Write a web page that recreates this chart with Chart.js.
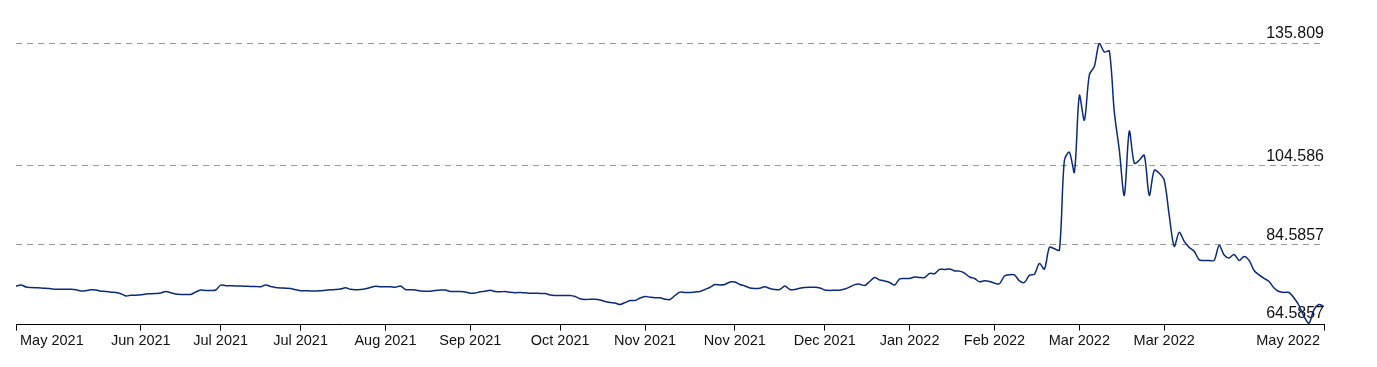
<!DOCTYPE html>
<html>
<head>
<meta charset="utf-8">
<script src="https://cdn.jsdelivr.net/npm/chart.js@4"></script>
<style>
    html, body { margin: 0; padding: 0; background: #fff; }
    #wrap { width: 1377px; height: 367px; }
</style>
</head>
<body>
<div id="wrap"><canvas id="priceChart"></canvas></div>
<script>
// one value per trading day
const values = [
    73.97, 74.28, 73.77, 73.64, 73.57, 73.52, 73.44, 73.31, 73.18, 73.18,
    73.21, 73.18, 73.06, 72.75, 72.80, 73.08, 73.00, 72.70, 72.62, 72.45,
    72.37, 72.06, 71.48, 71.66, 71.68, 71.78, 71.99, 72.04, 72.11, 72.24,
    72.62, 72.32, 71.99, 71.86, 71.86, 71.86, 72.50, 73.00, 72.88, 72.88,
    73.00, 74.23, 74.10, 74.08, 74.02, 74.02, 73.97, 73.90, 73.90, 73.82,
    74.28, 73.90, 73.64, 73.52, 73.46, 73.39, 73.06, 72.83, 72.80, 72.75,
    72.75, 72.80, 72.95, 73.06, 73.13, 73.26, 73.57, 73.18, 73.06, 73.13,
    73.31, 73.64, 73.95, 73.82, 73.82, 73.82, 73.69, 74.02, 73.13, 73.06,
    73.00, 72.75, 72.70, 72.70, 72.88, 73.00, 73.00, 72.62, 72.62, 72.62,
    72.50, 72.19, 72.24, 72.55, 72.67, 72.93, 72.62, 72.55, 72.62, 72.42,
    72.32, 72.37, 72.29, 72.19, 72.17, 72.11, 72.11, 71.73, 71.60, 71.60,
    71.60, 71.60, 71.35, 70.79, 70.59, 70.64, 70.64, 70.46, 70.07, 69.82,
    69.69, 69.31, 69.82, 70.33, 70.33, 70.97, 71.35, 71.17, 71.02, 71.02,
    70.66, 70.59, 71.60, 72.45, 72.37, 72.37, 72.50, 72.62, 73.13, 73.64,
    74.41, 74.28, 74.41, 75.04, 75.04, 74.41, 74.02, 73.52, 73.39, 73.46,
    73.82, 73.39, 73.13, 73.13, 74.02, 73.13, 73.13, 73.44, 73.64, 73.71,
    73.71, 73.52, 73.00, 72.88, 72.95, 72.95, 73.26, 73.77, 74.36, 74.48,
    74.15, 75.17, 76.19, 75.55, 75.30, 74.92, 74.28, 75.81, 75.93, 75.93,
    76.31, 76.19, 76.19, 77.21, 77.13, 78.23, 78.23, 78.36, 77.85, 77.80,
    77.29, 76.31, 75.93, 75.09, 75.35, 75.17, 74.74, 74.59, 76.57, 76.88,
    76.83, 75.30, 74.92, 76.78, 77.03, 79.76, 78.31, 83.84, 83.50, 83.14,
    106.00, 108.04, 102.94, 122.48, 116.19, 127.73, 129.87, 135.809, 133.52, 133.77,
    118.23, 108.55, 97.08, 113.39, 105.24, 106.00, 107.27, 97.08, 103.45, 102.69,
    100.90, 91.99, 84.09, 87.66, 85.37, 83.84, 82.83, 80.65, 80.52, 80.52,
    80.52, 84.34, 81.92, 81.16, 82.05, 80.52, 81.54, 80.52, 77.97, 76.83,
    75.93, 75.17, 73.52, 72.62, 72.37, 72.37, 70.97, 69.06, 66.25, 64.5857,
    68.03, 69.31, 68.80
];

// x axis: which day gets a label, and the label
const tickIdx = [0, 25, 41, 57, 74, 91, 109, 126, 144, 162, 179, 196, 213, 230, 262];
const tickText = ['May 2021', 'Jun 2021', 'Jul 2021', 'Jul 2021', 'Aug 2021', 'Sep 2021', 'Oct 2021',
    'Nov 2021', 'Nov 2021', 'Dec 2021', 'Jan 2022', 'Feb 2022', 'Mar 2022', 'Mar 2022', 'May 2022'];

// y axis: min, min+20, min+40, max
const yTicks = [64.5857, 84.5857, 104.586, 135.809];
const yTickText = ['64.5857', '84.5857', '104.586', '135.809'];
const yMin = 64.2;
const yMax = 135.809;

document.addEventListener("DOMContentLoaded", function () {
    let ctx = document.getElementById('priceChart').getContext('2d');

    new Chart(ctx, {
        type: 'line',
        data: {
            datasets: [{
                data: values.map((v, i) => ({ x: i, y: v })),
                borderColor: '#0b2a7c',
                borderWidth: 1.5,
                pointRadius: 0,
                tension: 0.3,
                fill: false
            }]
        },
        options: {
            responsive: true,
            maintainAspectRatio: false,
            animation: false,
            layout: { padding: { left: 16, right: 53, top: 43, bottom: 15 } },
            plugins: {
                legend: { display: false },
                tooltip: { enabled: false }
            },
            scales: {
                x: {
                    type: 'linear',
                    min: 0,
                    max: values.length - 1,
                    afterBuildTicks: axis => { axis.ticks = tickIdx.map(v => ({ value: v })); },
                    grid: { drawOnChartArea: false, drawTicks: true, tickLength: 6, tickColor: '#000' },
                    border: { color: '#000', width: 1 },
                    ticks: {
                        autoSkip: false,
                        maxRotation: 0,
                        align: 'inner',
                        padding: 2,
                        color: '#111',
                        font: { family: "'Liberation Sans', Arial, sans-serif", size: 14.5 },
                        callback: function (value) {
                            let k = tickIdx.indexOf(value);
                            if (k === 0) return ' ' + tickText[k];
                            if (k === tickIdx.length - 1) return tickText[k] + ' ';
                            return k >= 0 ? tickText[k] : '';
                        }
                    }
                },
                y: {
                    position: 'right',
                    min: yMin,
                    max: yMax,
                    afterBuildTicks: axis => { axis.ticks = yTicks.map(v => ({ value: v })); },
                    grid: {
                        drawTicks: false,
                        color: c => (c.tick && c.tick.value === yTicks[0]) ? 'rgba(0,0,0,0)' : '#9a9a9a'
                    },
                    border: { display: false, dash: [6, 5] },
                    ticks: {
                        mirror: true,
                        padding: 0,
                        labelOffset: -9,
                        color: '#111',
                        font: { family: "'Liberation Sans', Arial, sans-serif", size: 16 },
                        callback: function (value) {
                            let k = yTicks.indexOf(value);
                            return k >= 0 ? yTickText[k] : '';
                        }
                    }
                }
            }
        }
    });
});
</script>
</body>
</html>
